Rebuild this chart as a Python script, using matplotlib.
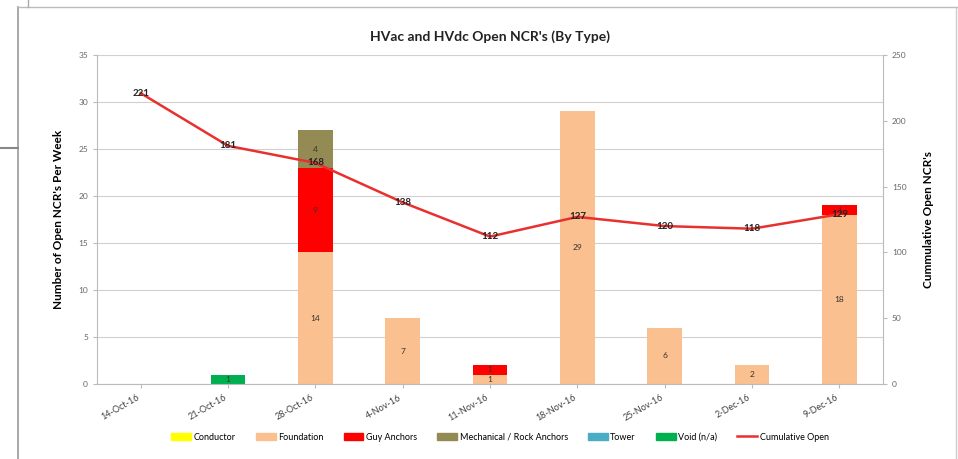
import matplotlib.pyplot as plt
import numpy as np
from matplotlib.lines import Line2D

plt.rcParams['font.family'] = ['Lato', 'DejaVu Sans']

# data
weeks = ['14-Oct-16', '21-Oct-16', '28-Oct-16', '4-Nov-16', '11-Nov-16',
         '18-Nov-16', '25-Nov-16', '2-Dec-16', '9-Dec-16']
conductor = [0, 0, 0, 0, 0, 0, 0, 0, 0]
foundation = [0, 0, 14, 7, 1, 29, 6, 2, 18]
guy_anchors = [0, 0, 9, 0, 1, 0, 0, 0, 1]
mech_rock = [0, 0, 4, 0, 0, 0, 0, 0, 0]
tower = [0, 0, 0, 0, 0, 0, 0, 0, 0]
void = [0, 1, 0, 0, 0, 0, 0, 0, 0]
cumulative = [221, 181, 168, 138, 112, 127, 120, 118, 129]

series = [('Conductor', conductor, '#FFFF00'),
          ('Foundation', foundation, '#FAC090'),
          ('Guy Anchors', guy_anchors, '#FF0000'),
          ('Mechanical / Rock Anchors', mech_rock, '#948A54'),
          ('Tower', tower, '#4BACC6'),
          ('Void (n/a)', void, '#00B050')]

fig = plt.figure(figsize=(9.58, 4.59), dpi=100)
ax = fig.add_axes([97/958, 1 - 384/459, (883-97)/958, (384-55)/459])
ax2 = ax.twinx()

x = np.arange(len(weeks))
bottom = np.zeros(len(weeks))
for name, vals, col in series:
    vals = np.array(vals, dtype=float)
    ax.bar(x, vals, 0.4, bottom=bottom, color=col, label=name, zorder=2)
    for i, v in enumerate(vals):
        if v > 0:
            ax.text(x[i], bottom[i] + v / 2, '%d' % v, ha='center', va='center',
                    fontsize=6, color='#333333', zorder=3)
    bottom += vals

ax.set_ylim(0, 35)
ax.set_yticks(range(0, 36, 5))
ax.set_xlim(-0.5, len(weeks) - 0.5)
ax.set_xticks(x)
ax.set_xticklabels(weeks, rotation=30, ha='right', fontsize=6.5, color='#404040')
ax.grid(axis='y', color='#D0D0D0', lw=0.8, zorder=0)
ax.set_axisbelow(True)
ax.tick_params(axis='y', labelsize=6, colors='#666666', length=3, color='#BBBBBB')
ax.tick_params(axis='x', length=3, color='#BBBBBB')
for s in ['top', 'right']:
    ax.spines[s].set_visible(False)
ax.spines['left'].set_color('#BBBBBB')
ax.spines['bottom'].set_color('#BBBBBB')
ax.set_ylabel("Number of Open NCR's Per Week", fontsize=8.5, fontweight='bold', labelpad=10)

ax2.plot(x, cumulative, color='#E8302E', lw=1.8, zorder=4)
for i, v in enumerate(cumulative):
    ax2.text(x[i], v, str(v), ha='center', va='center', fontsize=7,
             fontweight='bold', color='#222222', zorder=5)
ax2.set_ylim(0, 250)
ax2.set_yticks(range(0, 251, 50))
ax2.tick_params(axis='y', labelsize=6, colors='#666666', length=3, color='#BBBBBB')
for s in ['top', 'left', 'bottom']:
    ax2.spines[s].set_visible(False)
ax2.spines['right'].set_color('#BBBBBB')
ax2.set_ylabel("Cummulative Open NCR's", fontsize=8.5, fontweight='bold', labelpad=12)

fig.text(490/958, 1 - 37/459, "HVac and HVdc Open NCR's (By Type)", ha='center',
         va='center', fontsize=10, fontweight='bold', color='#222222')

handles = [plt.Rectangle((0, 0), 1, 1, color=c) for _, _, c in series]
handles.append(Line2D([0], [0], color='#E8302E', lw=1.8))
labels = [n for n, _, _ in series] + ['Cumulative Open']
fig.legend(handles, labels, loc='center', bbox_to_anchor=(500/958, 1 - 437/459),
           ncol=7, frameon=False, fontsize=6.5, handlelength=2.2, handleheight=0.7,
           columnspacing=2.2, handletextpad=0.3)

# screenshot frame
fig.add_artist(Line2D([18/958, 18/958], [0, 1 - 7/459], color='#999999', lw=1.2))
fig.add_artist(Line2D([18/958, 1], [1 - 7/459, 1 - 7/459], color='#BBBBBB', lw=1))
fig.add_artist(Line2D([956/958, 956/958], [0, 1 - 7/459], color='#CCCCCC', lw=1))
fig.add_artist(Line2D([0, 18/958], [1 - 148/459, 1 - 148/459], color='#888888', lw=1.5))
fig.add_artist(Line2D([28/958, 28/958], [1 - 7/459, 1], color='#AAAAAA', lw=1))

fig.savefig('out.png', dpi=100)
